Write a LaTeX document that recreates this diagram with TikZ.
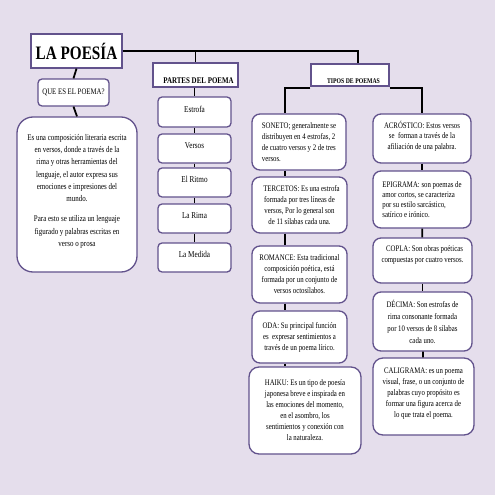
\documentclass[tikz,border=0pt]{standalone}
\usepackage{fontspec}
\setmainfont[FakeStretch=0.8]{Liberation Serif}
\definecolor{bg}{HTML}{E5DEEC}
\definecolor{bord}{HTML}{62528C}
\begin{document}
\begin{tikzpicture}[x=1pt,y=-1pt,
  box/.style={draw=bord,line width=1.3pt,fill=white,inner sep=0pt,align=center},
  sq/.style={box},
  rbox/.style={box,rounded corners=4pt},
  cbox/.style={box,rounded corners=8pt,font=\fontsize{8.5}{11}\selectfont},
  link/.style={line width=1.8pt,black}]
\fill[bg] (0,0) rectangle (495,495);
\useasboundingbox (0,0) rectangle (495,495);
% headings
\node[sq,minimum width=91pt,minimum height=34pt,font=\fontsize{19}{20}\selectfont\bfseries] (poesia) at (76.5,51) {LA POESÍA};
\node[rbox,minimum width=71pt,minimum height=27pt,font=\fontsize{8.5}{10}\selectfont] (quees) at (73.5,92.5) {QUE ES EL POEMA?};
\node[box,rounded corners=16pt,minimum width=120pt,minimum height=155pt,font=\fontsize{8.7}{12.3}\selectfont] (def) at (77,194.5)
 {Es una composición literaria escrita\\ en versos, donde a través de la\\ rima y otras herramientas del\\ lenguaje, el autor expresa sus\\ emociones e impresiones del\\ mundo.\\[8pt] Para esto se utiliza un lenguaje\\ figurado y palabras escritas en\\ verso o prosa\\[-4pt]};
\node[sq,minimum width=85pt,minimum height=24pt,text height=18pt,text depth=0pt,font=\fontsize{8.7}{10}\selectfont\bfseries] (partes) at (195.5,75) {\hspace{6pt}PARTES DEL POEMA};
\node[sq,minimum width=78pt,minimum height=22pt,text height=16pt,text depth=0pt,font=\fontsize{7.2}{9}\selectfont\bfseries] (tipos) at (350,75) {\hspace{7pt}TIPOS DE POEMAS};
% partes list
\tikzset{pbox/.style={rbox,minimum width=73pt,minimum height=29pt,text height=0pt,text depth=0pt,font=\fontsize{9}{10}\selectfont}}
\node[pbox,minimum height=30pt] (estrofa) at (194.5,112) {Estrofa};
\node[pbox] (versos) at (194.5,148.5) {Versos};
\node[pbox] (ritmo) at (194.5,182.5) {El Ritmo};
\node[pbox] (rima) at (194.5,218.5) {La Rima};
\node[pbox] (medida) at (194.5,257.5) {La Medida};
% tipos left column
\node[cbox,align=left,minimum width=94pt,minimum height=56pt] (soneto) at (299,142)
 {SONETO; generalmente se\\ distribuyen en 4 estrofas, 2\\ de cuatro versos y 2 de tres\\ versos.};
\node[cbox,minimum width=95pt,minimum height=56pt] (tercetos) at (299.5,205)
 {\hspace{4pt}TERCETOS: Es una estrofa\\ formada por tres líneas de\\ versos, Por lo general son\\ de 11 sílabas cada una.};
\node[cbox,minimum width=95pt,minimum height=57pt] (romance) at (299.5,274.5)
 {ROMANCE: Esta tradicional\\ composición poética, está\\ formada por un conjunto de\\ versos octosílabos.};
\node[cbox,minimum width=95pt,minimum height=52pt] (oda) at (299.5,337)
 {ODA: Su principal función\\ es\ \ expresar sentimientos a\\ través de un poema lírico.};
\node[cbox,rounded corners=10pt,minimum width=112pt,minimum height=87pt] (haiku) at (305,410.5)
 {HAIKU: Es un tipo de poesía\\ japonesa breve e inspirada en\\ las emociones del momento,\\ en el asombro, los\\ sentimientos y conexión con\\ la naturaleza.};
% tipos right column
\node[cbox,minimum width=98pt,minimum height=49pt,font=\fontsize{8.5}{10.5}\selectfont,text depth=7pt] (acrostico) at (422,138.5)
 {ACRÓSTICO: Estos versos\\ se\ \ forman a través de la\\ afiliación de una palabra.};
\node[cbox,align=left,minimum width=98pt,minimum height=57pt,font=\fontsize{8.5}{10}\selectfont] (epigrama) at (422,199.5)
 {EPIGRAMA: son poemas de\\ amor cortos, se caracteriza\\ por su estilo sarcástico,\\ satírico e irónico.};
\node[cbox,minimum width=99pt,minimum height=45pt,text depth=13pt] (copla) at (422.5,260.5)
 {\hspace{4pt}COPLA: Son obras poéticas\\ compuestas por cuatro versos.};
\node[cbox,minimum width=99pt,minimum height=59pt,font=\fontsize{8.5}{12}\selectfont] (decima) at (422.5,321.5)
 {DÉCIMA: Son estrofas de\\ rima consonante formada\\ por 10 versos de 8 sílabas\\ cada uno.};
\node[cbox,rounded corners=10pt,minimum width=101pt,minimum height=77pt,text depth=7pt] (caligrama) at (423.5,396.5)
 {CALIGRAMA: es un poema\\ visual, frase, o un conjunto de\\ palabras cuyo propósito es\\ formar una figura acerca de\\ lo que trata el poema.};
% connectors
\coordinate (tc) at (358,51);
\coordinate (lx) at (285,0);
\draw[link] (poesia.east) -- (tc) -- (tc |- tipos.north);
\draw[link] (poesia.east -| partes.north) -- (partes.north);
\draw[link] (poesia.south) -- (quees.north);
\draw[link] (quees.south) -- (def.north);
\draw[link] (partes.south -| estrofa.north) -- (estrofa.north);
\draw[link] (estrofa) -- (versos);
\draw[link] (versos) -- (ritmo);
\draw[link] (ritmo) -- (rima);
\draw[link] (rima) -- (medida);
\draw[link] ([yshift=-1pt]tipos.south west) -| (lx |- soneto.north);
\draw[link] ([yshift=-1pt]tipos.south east) -| (acrostico.north);
\draw[link] (lx |- soneto.south) -- (lx |- tercetos.north);
\draw[link] (lx |- tercetos.south) -- (lx |- romance.north);
\draw[link] (lx |- romance.south) -- (lx |- oda.north);
\draw[link] (lx |- oda.south) -- (lx |- haiku.north);
\draw[link] (acrostico) -- (epigrama);
\draw[link] (epigrama) -- (copla);
\draw[link] (copla) -- (decima);
\draw[link] (decima) -- (caligrama);
\end{tikzpicture}
\end{document}
